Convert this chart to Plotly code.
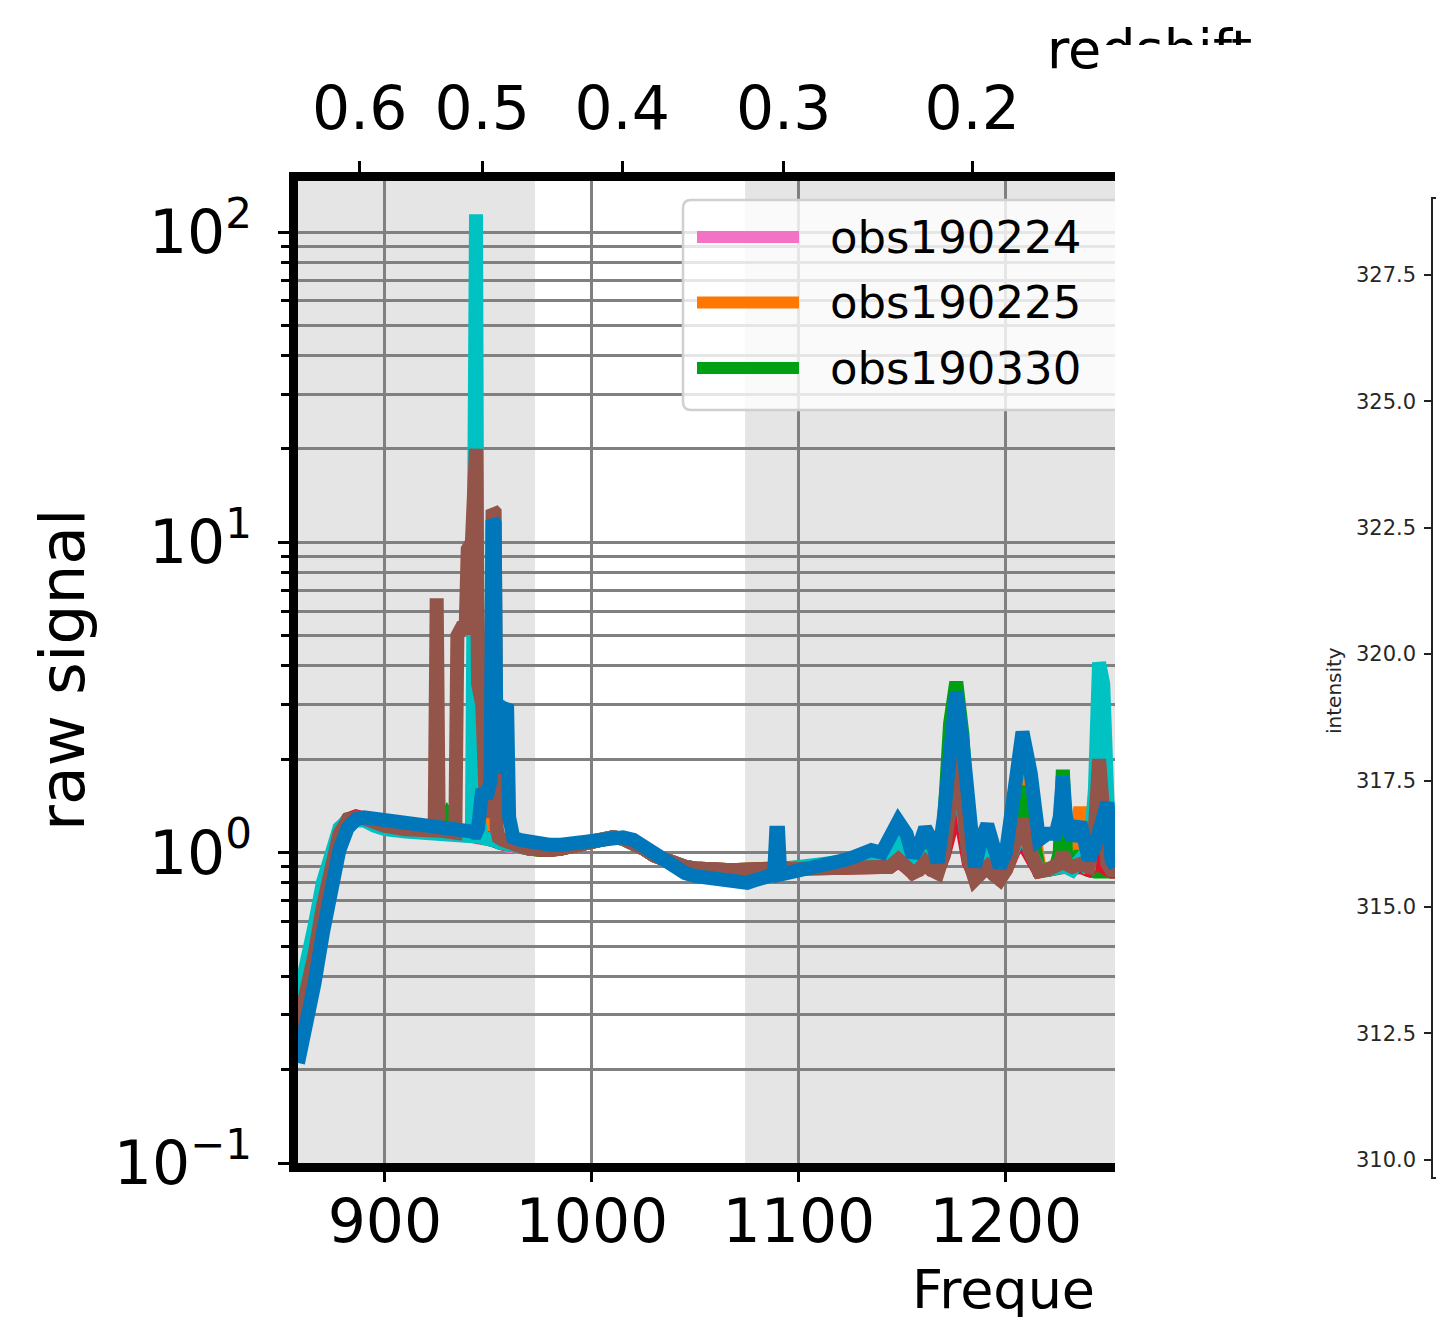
import plotly.graph_objects as go

# the page shows the figure offset by the body margin and with the height of the
# available viewport; positions below are given in screen pixels and converted.
W_FIG, H_FIG, OFF = 1444, 1309, 8

# ---------------- data ----------------
freq_mhz = [
    858, 862, 866, 870, 874, 878, 882, 886, 890, 895,
    900, 910, 920, 924, 925, 926, 930, 934, 935, 937,
    939, 940, 942, 943, 944, 945, 947, 949, 951, 952,
    953, 954, 955, 957, 959, 960, 962, 965, 970, 975,
    980, 985, 990, 995, 1000, 1005, 1010, 1015, 1020, 1025,
    1030, 1035, 1040, 1045, 1050, 1055, 1060, 1065, 1070, 1075,
    1080, 1085, 1088, 1089, 1090, 1091, 1095, 1100, 1105, 1110,
    1115, 1120, 1125, 1130, 1135, 1140, 1144, 1148, 1152, 1155,
    1158, 1161, 1164, 1167, 1170, 1173, 1176, 1179, 1182, 1185,
    1188, 1191, 1194, 1197, 1200, 1204, 1208, 1212, 1216, 1220,
    1224, 1226, 1227.5, 1229, 1232, 1236, 1240, 1243, 1245, 1247,
    1249, 1251, 1253,
]

signal_obs190224 = [
    0.26, 0.34, 0.48, 0.68, 0.93, 1.15, 1.26, 1.29, 1.28, 1.24,
    1.21, 1.18, 1.17, 1.17, 1.17, 1.17, 1.17, 1.16, 1.16, 1.15,
    1.15, 1.14, 1.14, 1.13, 1.13, 1.12, 1.12, 1.11, 1.11, 1.10,
    1.10, 1.09, 1.08, 1.07, 1.06, 1.05, 1.05, 1.04, 1.03, 1.02,
    1.02, 1.03, 1.05, 1.07, 1.09, 1.11, 1.12, 1.11, 1.08, 1.03,
    0.98, 0.95, 0.92, 0.90, 0.89, 0.88, 0.87, 0.87, 0.87, 0.87,
    0.87, 0.87, 0.88, 0.88, 0.88, 0.88, 0.89, 0.89, 0.90, 0.90,
    0.90, 0.91, 0.91, 0.92, 0.92, 0.92, 0.95, 1.10, 0.95, 0.87,
    0.89, 1.05, 0.92, 0.87, 1.10, 1.70, 2.10, 1.60, 1.00, 0.85,
    0.87, 0.95, 0.87, 0.84, 0.92, 1.40, 1.80, 1.30, 0.88, 0.88,
    0.89, 0.92, 1.00, 0.92, 0.95, 1.28, 0.90, 0.90, 0.90, 0.89,
    0.88, 0.87, 0.87,
]

signal_obs190225 = [
    0.27, 0.35, 0.49, 0.69, 0.94, 1.16, 1.27, 1.30, 1.29, 1.25,
    1.22, 1.19, 1.18, 1.18, 1.18, 1.18, 1.17, 1.16, 1.16, 1.16,
    1.15, 1.15, 1.14, 1.14, 1.13, 1.13, 4.40, 1.12, 1.11, 1.11,
    1.10, 1.09, 1.08, 1.07, 1.06, 1.05, 1.05, 1.05, 1.03, 1.02,
    1.02, 1.03, 1.05, 1.07, 1.09, 1.11, 1.12, 1.11, 1.08, 1.03,
    0.98, 0.95, 0.92, 0.90, 0.89, 0.88, 0.88, 0.88, 0.88, 0.88,
    0.88, 0.88, 0.88, 0.88, 0.88, 0.88, 0.89, 0.89, 0.90, 0.90,
    0.91, 0.92, 0.92, 0.93, 0.93, 0.93, 0.98, 1.20, 1.00, 0.88,
    0.90, 1.15, 0.95, 0.87, 1.15, 1.80, 2.20, 1.70, 1.00, 0.85,
    0.88, 1.05, 0.88, 0.84, 0.95, 1.50, 1.95, 1.40, 0.90, 0.88,
    0.90, 0.95, 1.20, 0.95, 0.95, 1.40, 0.92, 0.90, 0.92, 0.90,
    0.88, 0.88, 0.88,
]

signal_obs190330 = [
    0.28, 0.36, 0.50, 0.70, 0.95, 1.17, 1.28, 1.30, 1.29, 1.25,
    1.22, 1.20, 1.19, 1.19, 1.19, 1.19, 1.32, 1.17, 1.17, 1.16,
    1.15, 1.15, 1.14, 1.14, 1.13, 1.13, 1.12, 1.12, 1.11, 1.11,
    1.10, 1.09, 1.08, 1.07, 1.06, 1.05, 1.05, 1.05, 1.03, 1.02,
    1.02, 1.03, 1.05, 1.07, 1.09, 1.11, 1.12, 1.11, 1.08, 1.03,
    0.98, 0.95, 0.92, 0.90, 0.89, 0.88, 0.88, 0.88, 0.88, 0.88,
    0.88, 0.88, 0.88, 0.88, 0.88, 0.88, 0.89, 0.89, 0.90, 0.90,
    0.91, 0.92, 0.92, 0.93, 0.93, 0.93, 0.94, 1.05, 0.94, 0.88,
    0.90, 1.02, 0.92, 0.87, 1.20, 2.60, 3.55, 2.40, 1.10, 0.86,
    0.88, 0.98, 0.88, 0.85, 0.92, 1.30, 1.63, 1.20, 0.88, 0.88,
    0.89, 1.00, 1.85, 1.00, 0.88, 1.00, 0.88, 0.87, 0.87, 0.87,
    0.87, 0.87, 0.87,
]

signal_obs190403 = [
    0.27, 0.35, 0.48, 0.68, 0.93, 1.16, 1.28, 1.31, 1.29, 1.25,
    1.22, 1.19, 1.18, 1.18, 1.18, 1.18, 1.17, 1.16, 1.16, 1.15,
    1.15, 1.14, 1.14, 1.13, 1.13, 1.12, 1.12, 1.11, 1.11, 1.10,
    1.10, 1.09, 1.08, 1.07, 1.07, 1.06, 1.05, 1.05, 1.03, 1.02,
    1.02, 1.03, 1.05, 1.07, 1.09, 1.11, 1.12, 1.11, 1.08, 1.03,
    0.98, 0.95, 0.92, 0.90, 0.89, 0.88, 0.88, 0.88, 0.88, 0.88,
    0.88, 0.88, 0.88, 0.88, 0.88, 0.88, 0.89, 0.89, 0.90, 0.90,
    0.90, 0.90, 0.90, 0.90, 0.90, 0.90, 0.90, 0.94, 0.90, 0.87,
    0.88, 0.92, 0.88, 0.87, 0.98, 1.25, 1.40, 1.20, 0.93, 0.84,
    0.86, 0.89, 0.86, 0.84, 0.88, 1.02, 1.08, 0.97, 0.87, 0.88,
    0.89, 0.90, 0.94, 0.90, 0.89, 0.90, 0.88, 0.92, 0.94, 0.90,
    0.88, 0.87, 0.87,
]

signal_obs190405 = [
    0.33, 0.42, 0.58, 0.80, 1.02, 1.20, 1.27, 1.28, 1.27, 1.22,
    1.19, 1.17, 1.16, 1.16, 1.16, 1.16, 1.15, 1.14, 1.14, 1.13,
    1.13, 1.13, 1.13, 10.0, 114.0, 1.30, 1.12, 1.11, 1.11, 1.10,
    1.10, 1.09, 1.08, 1.07, 1.06, 1.06, 1.05, 1.04, 1.03, 1.03,
    1.03, 1.04, 1.05, 1.07, 1.09, 1.11, 1.12, 1.11, 1.08, 1.03,
    0.98, 0.95, 0.92, 0.90, 0.89, 0.88, 0.87, 0.87, 0.87, 0.87,
    0.87, 0.87, 0.88, 0.88, 0.88, 0.88, 0.89, 0.90, 0.91, 0.92,
    0.93, 0.94, 0.95, 0.96, 0.96, 0.95, 0.95, 1.05, 0.95, 0.88,
    0.90, 1.00, 0.92, 0.88, 1.10, 1.50, 1.70, 1.40, 1.00, 0.86,
    0.88, 0.95, 0.88, 0.85, 0.90, 1.05, 1.20, 1.00, 0.88, 0.88,
    0.88, 0.90, 1.00, 0.90, 0.88, 0.95, 0.88, 1.60, 4.10, 3.50,
    1.50, 0.90, 0.88,
]

signal_obs190408 = [
    0.27, 0.34, 0.47, 0.67, 0.92, 1.15, 1.27, 1.30, 1.29, 1.25,
    1.22, 1.19, 1.18, 1.18, 6.60, 1.18, 1.17, 1.16, 5.00, 5.30,
    5.30, 9.50, 10.0, 20.0, 20.0, 3.50, 3.00, 1.30, 1.50, 12.7,
    12.5, 1.20, 1.12, 1.10, 1.08, 1.07, 1.05, 1.05, 1.03, 1.02,
    1.02, 1.03, 1.05, 1.07, 1.09, 1.11, 1.12, 1.11, 1.08, 1.03,
    0.98, 0.95, 0.92, 0.90, 0.89, 0.88, 0.88, 0.88, 0.88, 0.88,
    0.88, 0.88, 0.88, 0.88, 0.88, 0.88, 0.89, 0.89, 0.90, 0.90,
    0.90, 0.90, 0.90, 0.90, 0.90, 0.90, 0.90, 0.95, 0.90, 0.86,
    0.88, 0.93, 0.88, 0.86, 1.00, 1.50, 2.00, 1.50, 0.95, 0.82,
    0.85, 0.90, 0.85, 0.82, 0.88, 1.10, 1.28, 1.00, 0.87, 0.88,
    0.90, 0.92, 1.00, 0.92, 0.90, 0.92, 0.90, 1.20, 2.00, 1.30,
    0.92, 0.88, 0.88,
]

signal_obs190410 = [
    0.21, 0.27, 0.38, 0.55, 0.78, 1.02, 1.20, 1.28, 1.30, 1.29,
    1.27, 1.25, 1.24, 1.23, 1.23, 1.23, 1.22, 1.21, 1.20, 1.19,
    1.18, 1.18, 1.17, 1.16, 1.16, 1.20, 1.60, 1.50, 1.70, 11.8,
    11.5, 1.80, 3.00, 2.90, 3.00, 1.30, 1.12, 1.10, 1.08, 1.08,
    1.06, 1.06, 1.07, 1.08, 1.10, 1.12, 1.13, 1.12, 1.10, 1.05,
    0.98, 0.93, 0.89, 0.86, 0.84, 0.83, 0.81, 0.80, 0.80, 0.80,
    0.82, 0.84, 0.85, 1.16, 1.16, 0.85, 0.86, 0.87, 0.88, 0.90,
    0.92, 0.94, 0.96, 0.98, 1.02, 1.00, 1.10, 1.26, 1.15, 0.97,
    1.05, 1.20, 1.10, 0.93, 1.30, 2.40, 3.30, 2.30, 1.20, 0.90,
    1.10, 1.23, 1.05, 0.90, 1.00, 1.70, 2.45, 1.80, 1.10, 1.15,
    1.15, 1.30, 1.76, 1.30, 1.10, 1.25, 0.95, 1.05, 1.20, 1.40,
    1.45, 0.95, 0.90,
]

# drawing order (bottom -> top): name, colour, values, listed in legend
series = [
    ("obs190224", "#f472c6", signal_obs190224, True),
    ("obs190225", "#ff7700", signal_obs190225, True),
    ("obs190330", "#00a012", signal_obs190330, True),
    ("obs190403", "#e0122e", signal_obs190403, False),
    ("obs190405", "#00c2c2", signal_obs190405, False),
    ("obs190408", "#93554a", signal_obs190408, False),
    ("obs190410", "#0077bb", signal_obs190410, False),
]

shaded_bands_mhz = [(850, 972.5), (1074, 1260)]
freq_range = [858, 1252.7]
freq_ticks = [900, 1000, 1100, 1200]
log_range = [-1, 2.1644]
major_y = [0.1, 1, 10, 100]
major_y_text = ["10<sup>\u22121</sup>", "10<sup>0</sup>", "10<sup>1</sup>", "10<sup>2</sup>"]
minor_y = [m * d for d in (0.1, 1, 10) for m in range(2, 10)]
redshift_ticks = [0.6, 0.5, 0.4, 0.3, 0.2]
HI_REST_MHZ = 1420.405751
intensity_ticks = [310.0, 312.5, 315.0, 317.5, 320.0, 322.5, 325.0, 327.5]
intensity_range = [309.66, 329.0]

# ---------------- helpers (screen pixel -> paper) ----------------
def px(x):
    return (x - OFF) / W_FIG

def py(y):
    return 1 - (y - OFF) / H_FIG

FONT = "DejaVu Sans"
MAIN_X = [px(298), px(1115)]
MAIN_Y = [py(1163), py(181)]
TEXT_CLIP_X = 1099

fig = go.Figure()

for name, color, vals, _ in series:
    fig.add_trace(go.Scatter(
        x=freq_mhz, y=vals, mode="lines", name=name,
        line=dict(color=color, width=14),
        xaxis="x", yaxis="y", showlegend=False, hoverinfo="skip",
    ))

# empty trace so that the top (redshift) axis is drawn
fig.add_trace(go.Scatter(x=[None], y=[None], xaxis="x2", yaxis="y",
                         showlegend=False, hoverinfo="skip"))

# axis-title texts that are partly hidden in the reference (clipped by subplot areas)
title_font = dict(size=54, family=FONT, color="black")
def clipped_text(txt, x, y, pos, xa, ya):
    fig.add_trace(go.Scatter(
        x=[x], y=[y], text=[txt], mode="text", textposition=pos,
        textfont=title_font, xaxis=xa, yaxis=ya, showlegend=False,
        hoverinfo="skip", cliponaxis=True,
    ))

# subplot 3: everything left of the clip line, full height
clipped_text("redshift", 1047, 27, "bottom right", "x3", "y3")
clipped_text("Frequency (MHz)", 912, 1267, "bottom right", "x3", "y3")
# subplot 4: thin strip at the very top, full width
clipped_text("redshift", 1047, 27, "bottom right", "x4", "y4")

# right panel (empty axes)
fig.add_trace(go.Scatter(x=[None], y=[None], xaxis="x5", yaxis="y5",
                         showlegend=False, hoverinfo="skip"))

hidden = dict(visible=False, fixedrange=True, showgrid=False, zeroline=False,
              autorange=False)

fig.update_layout(
    width=W_FIG, height=H_FIG, autosize=False,
    margin=dict(l=0, r=0, t=0, b=0, pad=0, autoexpand=False),
    paper_bgcolor="white",
    plot_bgcolor="rgba(0,0,0,0)",
    showlegend=False,
    hovermode=False,
    xaxis=dict(
        domain=MAIN_X, range=freq_range, anchor="y",
        showline=True, linewidth=9, linecolor="black",
        ticks="outside", ticklen=10, tickwidth=3, tickcolor="black",
        tickvals=freq_ticks, tickfont=dict(size=60, family=FONT, color="black"),
        showgrid=True, gridcolor="#808080", gridwidth=2.5, zeroline=False,
        ticklabelstandoff=-12,
    ),
    xaxis2=dict(
        overlaying="x", side="top", anchor="y", range=freq_range,
        showline=True, linewidth=9, linecolor="black",
        ticks="outside", ticklen=11, tickwidth=3, tickcolor="black",
        tickvals=[HI_REST_MHZ / (1 + z) for z in redshift_ticks],
        ticktext=[f"{z:.1f}" for z in redshift_ticks],
        tickfont=dict(size=60, family=FONT, color="black"),
        showgrid=False, zeroline=False, ticklabelstandoff=8,
    ),
    yaxis=dict(
        domain=MAIN_Y, type="log", range=log_range, anchor="x",
        showline=True, linewidth=9, linecolor="black",
        ticks="outside", ticklen=11, tickwidth=3, tickcolor="black",
        tickvals=major_y, ticktext=major_y_text,
        tickfont=dict(size=60, family=FONT, color="black"),
        showgrid=True, gridcolor="#808080", gridwidth=2.5, zeroline=False,
        minor=dict(tickmode="array", tickvals=minor_y, ticks="outside",
                   ticklen=8, tickwidth=3, tickcolor="black",
                   showgrid=True, gridcolor="#808080", gridwidth=2.5),
        ticklabelstandoff=14,
    ),
    xaxis3=dict(domain=[0, px(TEXT_CLIP_X)], range=[OFF, TEXT_CLIP_X], anchor="y3", **hidden),
    yaxis3=dict(domain=[0, 1], range=[OFF + H_FIG, OFF], anchor="x3", **hidden),
    xaxis4=dict(domain=[0, 1], range=[OFF, OFF + W_FIG], anchor="y4", **hidden),
    yaxis4=dict(domain=[py(45), 1], range=[45, OFF], anchor="x4", **hidden),
    xaxis5=dict(domain=[px(1433), 1], range=[0, 1], anchor="y5",
                showline=True, mirror=True, linewidth=1.5, linecolor="#222",
                showticklabels=False, ticks="", showgrid=False, zeroline=False,
                fixedrange=True),
    yaxis5=dict(domain=[py(1177), py(199)], range=intensity_range, anchor="x5",
                showline=True, linewidth=1.5, linecolor="#222",
                ticks="outside", ticklen=7, tickwidth=1.5, tickcolor="#222",
                tickvals=intensity_ticks,
                ticktext=[f"{v:.1f}" for v in intensity_ticks],
                tickfont=dict(size=21, family=FONT, color="#262626"),
                showgrid=False, zeroline=False, fixedrange=True,
                ticklabelstandoff=4),
)

# grey shaded bands
for x0, x1 in shaded_bands_mhz:
    fig.add_shape(type="rect", xref="x", yref="y domain", x0=x0, x1=x1, y0=0, y1=1,
                  fillcolor="#e5e5e5", line=dict(width=0), layer="below")

# legend (drawn by hand so that the sample lines are long, clipped at plot edge)
lx0, lx1, ly0, ly1, r = 683, 1115, 200, 410, 8
path = (f"M {px(lx1)},{py(ly0)} L {px(lx0 + r)},{py(ly0)} "
        f"Q {px(lx0)},{py(ly0)} {px(lx0)},{py(ly0 + r)} "
        f"L {px(lx0)},{py(ly1 - r)} Q {px(lx0)},{py(ly1)} {px(lx0 + r)},{py(ly1)} "
        f"L {px(lx1)},{py(ly1)}")
fig.add_shape(type="path", xref="paper", yref="paper", path=path,
              fillcolor="rgba(255,255,255,0.8)", line=dict(color="#d0d0d0", width=2.5),
              layer="above")
legend_items = [(n, c) for n, c, _, show in series if show]
for i, (name, color) in enumerate(legend_items):
    yy = 237 + i * 65.5
    fig.add_shape(type="line", xref="paper", yref="paper",
                  x0=px(697), x1=px(799), y0=py(yy), y1=py(yy),
                  line=dict(color=color, width=12), layer="above")
    fig.add_annotation(xref="paper", yref="paper", x=px(828), y=py(yy),
                       text=name, showarrow=False, xanchor="left", yanchor="middle",
                       font=dict(size=45, family=FONT, color="black"))

# axis titles
fig.add_annotation(xref="paper", yref="paper", x=px(62), y=py(670), text="raw signal",
                   textangle=-90, showarrow=False, xanchor="center", yanchor="middle",
                   font=dict(size=63, family=FONT, color="black"))
fig.add_annotation(xref="paper", yref="paper", x=px(1334), y=py(691), text="intensity",
                   textangle=-90, showarrow=False, xanchor="center", yanchor="middle",
                   font=dict(size=20, family=FONT, color="#262626"))

fig.write_html("out.html", config={"displayModeBar": False})
